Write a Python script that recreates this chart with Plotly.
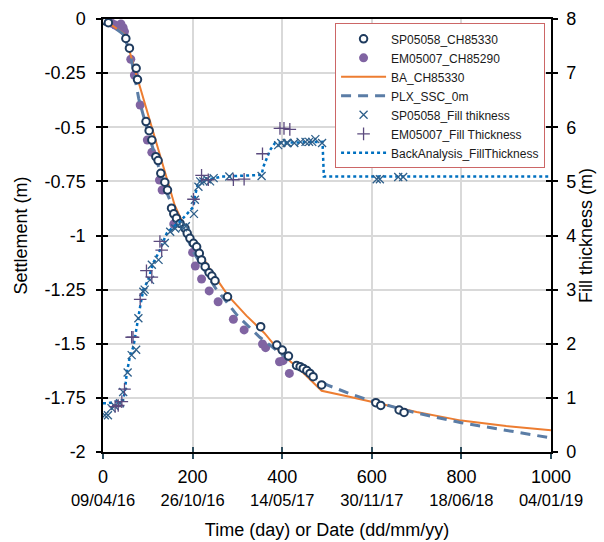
import plotly.graph_objects as go

# ---- data ----
x_tick_vals = [0, 200, 400, 600, 800, 1000]
x_tick_dates = ["09/04/16", "26/10/16", "14/05/17", "30/11/17", "18/06/18", "04/01/19"]
y_tick_vals = [0, -0.25, -0.5, -0.75, -1, -1.25, -1.5, -1.75, -2]
y_tick_text = ["0", "-0.25", "-0.5", "-0.75", "-1", "-1.25", "-1.5", "-1.75", "-2"]
y2_tick_vals = [0, 1, 2, 3, 4, 5, 6, 7, 8]

sp_day = [0, 6, 12, 51, 59, 74, 77, 96, 103, 109, 118, 123, 129, 138, 144, 153, 158, 164, 172,
          183, 188, 194, 202, 209, 215, 220, 228, 237, 243, 250, 278, 352, 388, 400, 414, 432,
          440, 447, 455, 462, 469, 488, 609, 620, 661, 672]
sp_set = [-0.005, -0.01, -0.017, -0.09, -0.135, -0.228, -0.28, -0.474, -0.516, -0.559, -0.636,
          -0.654, -0.713, -0.754, -0.79, -0.874, -0.9, -0.92, -0.944, -0.967, -0.99, -1.013,
          -1.036, -1.052, -1.082, -1.113, -1.144, -1.172, -1.187, -1.209, -1.283, -1.421,
          -1.506, -1.529, -1.557, -1.60, -1.606, -1.614, -1.624, -1.637, -1.652, -1.69,
          -1.772, -1.785, -1.806, -1.817]

em_day = [20, 27, 33, 40, 45, 48, 62, 70, 83, 99, 109, 126, 132, 158, 200, 206, 220, 237,
          257, 291, 315, 356, 363, 394, 402, 416]
em_set = [-0.02, -0.028, -0.035, -0.023, -0.04, -0.058, -0.186, -0.259, -0.397, -0.559,
          -0.616, -0.744, -0.79, -0.947, -1.078, -1.141, -1.201, -1.256, -1.306, -1.387,
          -1.436, -1.501, -1.518, -1.583, -1.578, -1.637]

ba_day = [0, 48, 160, 180, 200, 240, 280, 320, 360, 400, 440, 488, 550, 609, 700, 800, 900, 1000]
ba_set = [0, -0.07, -0.86, -0.95, -1.02, -1.16, -1.28, -1.37, -1.45, -1.55, -1.62, -1.717,
          -1.745, -1.772, -1.815, -1.855, -1.88, -1.90]

plx_day = [0, 20, 45, 60, 80, 100, 120, 140, 160, 180, 200, 250, 300, 350, 400, 450, 500,
           550, 600, 700, 800, 900, 1000]
plx_set = [0, -0.03, -0.07, -0.15, -0.37, -0.52, -0.66, -0.79, -0.89, -0.97, -1.07, -1.24,
           -1.37, -1.47, -1.55, -1.63, -1.69, -1.73, -1.765, -1.82, -1.865, -1.90, -1.935]

spf_day = [4, 11, 19, 26, 38, 45, 55, 64, 74, 79, 90, 93, 105, 109, 124, 138, 150, 161, 168,
           178, 185, 203, 205, 213, 217, 224, 232, 239, 247, 282, 354, 391, 398, 410, 412,
           427, 441, 452, 460, 467, 474, 489, 611, 618, 659, 670]
spf_val = [0.68, 0.68, 0.81, 0.85, 0.9, 1.11, 1.47, 1.79, 1.89, 2.47, 2.96, 3.0, 3.18, 3.46,
           3.55, 3.86, 4.07, 4.13, 4.19, 4.15, 4.17, 4.4, 4.66, 4.9, 5.0, 5.0, 5.04, 5.0, 5.06,
           5.09, 5.1, 5.67, 5.71, 5.71, 5.71, 5.71, 5.73, 5.73, 5.73, 5.73, 5.78, 5.71, 5.04,
           5.04, 5.08, 5.08]

emf_day = [27, 34, 42, 48, 64, 67, 83, 97, 109, 127, 131, 202, 220, 235, 291, 315, 356, 395,
           404, 417]
emf_val = [0.84, 0.86, 0.93, 1.16, 2.12, 2.12, 2.82, 3.35, 3.23, 3.89, 3.73, 4.67, 5.11, 5.03,
           5.03, 5.04, 5.51, 5.98, 5.98, 5.96]

bf_day = [0, 11, 45, 49, 53, 60, 68, 75, 83, 90, 101, 112, 127, 142, 157, 172, 194, 202, 205,
          209, 213, 268, 354, 358, 373, 384, 490, 493, 1000]
bf_val = [0.9, 0.9, 0.96, 1.14, 1.46, 1.76, 1.95, 2.32, 2.69, 3.0, 3.18, 3.49, 3.73, 4.04,
          4.16, 4.26, 4.47, 4.53, 4.72, 4.84, 5.0, 5.09, 5.12, 5.27, 5.58, 5.71, 5.73, 5.09,
          5.09]

FONT = "Arial, Liberation Sans, sans-serif"

fig = go.Figure()

fig.add_trace(go.Scatter(x=bf_day, y=bf_val, yaxis="y2", mode="lines",
                         name="BackAnalysis_FillThickness",
                         line=dict(color="#0070C0", width=2.5, dash="dot")))
fig.add_trace(go.Scatter(x=spf_day, y=spf_val, yaxis="y2", mode="markers",
                         name="SP05058_Fill thikness",
                         marker=dict(symbol="x-thin", size=8, color="#2E5F8A",
                                     line=dict(color="#2E5F8A", width=1.3))))
fig.add_trace(go.Scatter(x=emf_day, y=emf_val, yaxis="y2", mode="markers",
                         name="EM05007_Fill Thickness",
                         marker=dict(symbol="cross-thin", size=9, color="#5B4A7E",
                                     line=dict(color="#5B4A7E", width=1.3))))
fig.add_trace(go.Scatter(x=em_day, y=em_set, mode="markers", name="EM05007_CH85290",
                         marker=dict(symbol="circle", size=9, color="#8064A2")))
fig.add_trace(go.Scatter(x=ba_day, y=ba_set, mode="lines", name="BA_CH85330",
                         line=dict(color="#ED7D31", width=2)))
fig.add_trace(go.Scatter(x=plx_day, y=plx_set, mode="lines", name="PLX_SSC_0m",
                         line=dict(color="#5B7DA6", width=3, dash="10px,7px")))
fig.add_trace(go.Scatter(x=sp_day, y=sp_set, mode="markers", name="SP05058_CH85330",
                         marker=dict(symbol="circle", size=7.5, color="white",
                                     line=dict(color="#1F3B5E", width=2))))

# dummy traces to activate tick-overlay axes
fig.add_trace(go.Scatter(x=[None], y=[None], xaxis="x3", yaxis="y", showlegend=False,
                         hoverinfo="skip"))
fig.add_trace(go.Scatter(x=[None], y=[None], xaxis="x", yaxis="y3", showlegend=False,
                         hoverinfo="skip"))
fig.add_trace(go.Scatter(x=[None], y=[None], xaxis="x", yaxis="y4", showlegend=False,
                         hoverinfo="skip"))

order = ["SP05058_CH85330", "EM05007_CH85290", "BA_CH85330", "PLX_SSC_0m",
         "SP05058_Fill thikness", "EM05007_Fill Thickness", "BackAnalysis_FillThickness"]
for tr in fig.data:
    if tr.name in order:
        tr.legendrank = order.index(tr.name) + 1

fig.update_layout(
    width=604, height=542,
    margin=dict(l=103, r=53, t=19, b=90),
    paper_bgcolor="white", plot_bgcolor="white",
    font=dict(family=FONT, color="black", size=18),
    showlegend=True,
    legend=dict(x=0.518, y=0.99, xanchor="left", yanchor="top",
                bgcolor="white", bordercolor="#CC6666", borderwidth=1,
                font=dict(family=FONT, size=12, color="#1a1a1a"),
                itemwidth=45, tracegroupgap=0),
    xaxis=dict(range=[0, 1000], tickvals=x_tick_vals, ticktext=[str(v) for v in x_tick_vals],
               automargin=False,
               showgrid=True, gridcolor="#D9D9D9", gridwidth=1.5, zeroline=False,
               showline=True, linecolor="black", linewidth=1.5, mirror=True,
               ticks="outside", ticklen=5, tickcolor="#2F4F5F", tickwidth=1.5,
               tickfont=dict(size=18), ticklabelstandoff=3,
               title=dict(text="Time (day) or Date (dd/mm/yy)", font=dict(size=18), standoff=37)),
    xaxis3=dict(range=[0, 1000], overlaying="x", anchor="y", side="bottom", automargin=False,
                tickvals=x_tick_vals, ticktext=x_tick_dates, showgrid=False, zeroline=False,
                showline=False, ticks="inside", ticklen=5, tickcolor="#2F4F5F", tickwidth=1.5,
                tickfont=dict(size=16.5), ticklabelstandoff=36),
    yaxis=dict(range=[-2, 0], tickvals=y_tick_vals, ticktext=y_tick_text, automargin=False,
               showgrid=True, gridcolor="#D9D9D9", gridwidth=1.5, zeroline=False,
               showline=True, linecolor="black", linewidth=1.5,
               ticks="outside", ticklen=5, tickcolor="black", tickwidth=1.5,
               tickfont=dict(size=18), ticklabelstandoff=7,
               title=dict(text="Settlement (m)", font=dict(size=18), standoff=12)),
    yaxis3=dict(range=[-2, 0], overlaying="y", anchor="x", side="left", automargin=False,
                tickvals=y_tick_vals, showticklabels=False, showgrid=False, zeroline=False,
                showline=False, ticks="inside", ticklen=5, tickcolor="black", tickwidth=1.5),
    yaxis2=dict(range=[0, 8], overlaying="y", anchor="x", side="right", automargin=False,
                tickvals=y2_tick_vals, showgrid=False, zeroline=False,
                showline=True, linecolor="black", linewidth=1.5,
                ticks="outside", ticklen=5, tickcolor="black", tickwidth=1.5,
                tickfont=dict(size=18), ticklabelstandoff=5,
                title=dict(text="Fill thickness (m)", font=dict(size=18), standoff=3)),
    yaxis4=dict(range=[0, 8], overlaying="y", anchor="x", side="right", automargin=False,
                tickvals=y2_tick_vals, showticklabels=False, showgrid=False, zeroline=False,
                showline=False, ticks="inside", ticklen=5, tickcolor="black", tickwidth=1.5),
)

fig.write_html("out.html")
